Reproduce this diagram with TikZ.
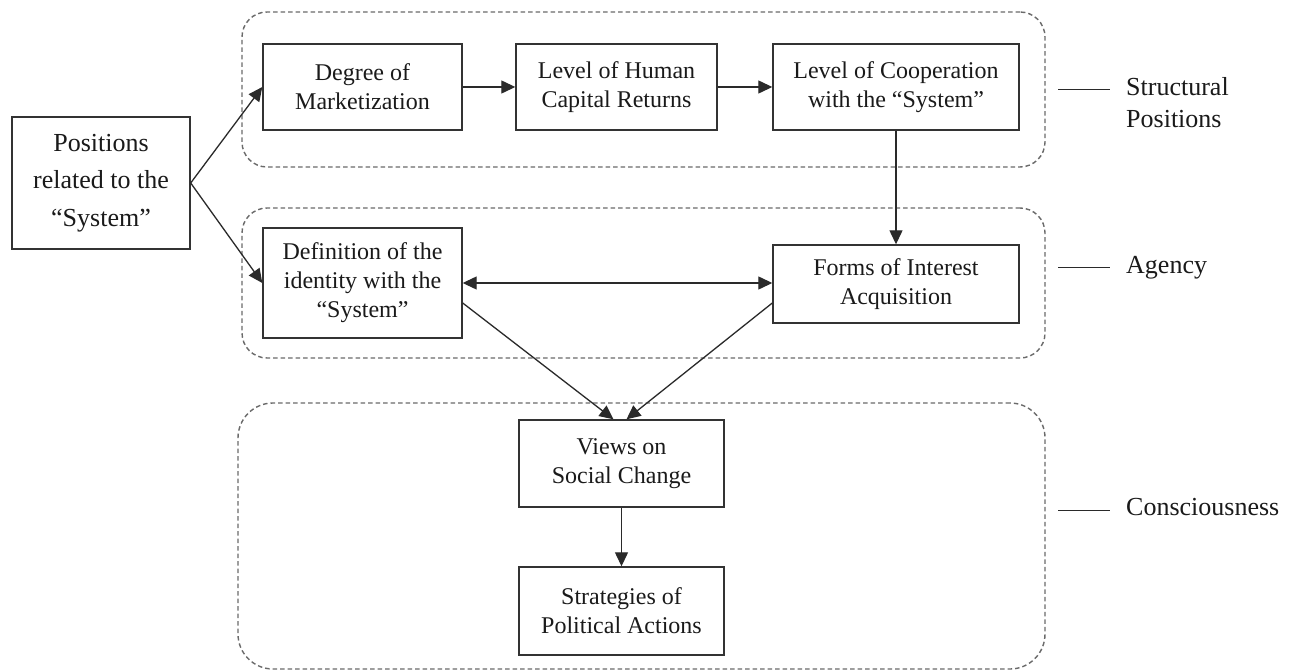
\documentclass[tikz,border=0pt]{standalone}
\usepackage{fontspec}
\setmainfont{Liberation Serif}
\usetikzlibrary{arrows.meta}
\definecolor{boxc}{HTML}{333333}
\definecolor{linec}{HTML}{2A2A2A}
\definecolor{dashc}{HTML}{6A6A6A}
\definecolor{txt}{HTML}{1A1A1A}
\begin{document}
\begin{tikzpicture}[x=1pt,y=-1pt,
  box/.style={draw=boxc, line width=1.4pt, align=center, font=\fontsize{24}{29}\selectfont, inner sep=0pt, text=txt},
  region/.style={draw=dashc, line width=1.4pt, dash pattern=on 4.5pt off 3pt, rounded corners=25pt, inner sep=0pt},
  arr/.style={draw=linec, line width=1.3pt, -{Triangle[length=14pt,width=13pt]}},
  dbl/.style={draw=linec, line width=1.3pt, {Triangle[length=14pt,width=13pt]}-{Triangle[length=14pt,width=13pt]}},
  lab/.style={font=\fontsize{26}{32}\selectfont, align=left, inner sep=0pt, text=txt},
  labline/.style={draw=linec, line width=1pt}
]
\useasboundingbox (0,0) rectangle (1294,671);
\fill[white] (0,0) rectangle (1294,671);

% dashed regions
\node[region, minimum width=803pt, minimum height=155pt] (r1) at (643.5,89.5) {};
\node[region, minimum width=803pt, minimum height=150pt] (r2) at (643.5,283) {};
\node[region, rounded corners=35pt, minimum width=807pt, minimum height=266pt] (r3) at (641.5,536) {};

% boxes
\node[box, minimum width=178pt, minimum height=132pt, font=\fontsize{26}{37.5}\selectfont] (pos) at (101,183) {Positions\\related to the\\“System”};
\node[box, minimum width=199pt, minimum height=86pt] (deg) at (362.5,87) {Degree of\\Marketization};
\node[box, minimum width=201pt, minimum height=86pt] (hum) at (616.5,87) {Level of Human\\Capital Returns};
\node[box, minimum width=246pt, minimum height=86pt] (coop) at (896,87) {Level of Cooperation\\with the “System”};
\node[box, minimum width=199pt, minimum height=110pt] (def) at (362.5,283) {Definition of the\\identity with the\\“System”};
\node[box, minimum width=246pt, minimum height=78pt] (forms) at (896,284) {Forms of Interest\\Acquisition};
\node[box, minimum width=205pt, minimum height=87pt] (views) at (621.5,463.5) {Views on\\Social Change};
\node[box, minimum width=205pt, minimum height=88pt] (strat) at (621.5,611) {Strategies of\\Political Actions};

% connectors
\draw[arr] (pos.east) -- (deg.west);
\draw[arr] (pos.east) -- (def.west);
\draw[arr] (deg.east) -- (hum.west);
\draw[arr] (hum.east) -- (coop.west);
\draw[arr] (coop.south) -- (forms.north);
\draw[dbl] (def.east) -- (def.east -| forms.west);
\draw[arr] ([yshift=-20pt]def.east) -- ([xshift=-8pt]views.north);
\draw[arr] ([yshift=-19pt]forms.west) -- ([xshift=5pt]views.north);
\draw[arr] (views.south) -- (strat.north);

% level labels
\node[lab, anchor=north west] (labS) at (1126,77) {Structural\\Positions};
\node[lab, anchor=base west] (labA) at (1126,274) {Agency};
\node[lab, anchor=base west] (labC) at (1126,515) {Consciousness};
\coordinate (s1) at (1058,90);  \coordinate (s2) at (1110,90);
\coordinate (a1) at (1058,268); \coordinate (a2) at (1110,268);
\coordinate (c1) at (1058,510); \coordinate (c2) at (1110,510);
\draw[labline] (s1) -- (s2);
\draw[labline] (a1) -- (a2);
\draw[labline] (c1) -- (c2);
\end{tikzpicture}
\end{document}
